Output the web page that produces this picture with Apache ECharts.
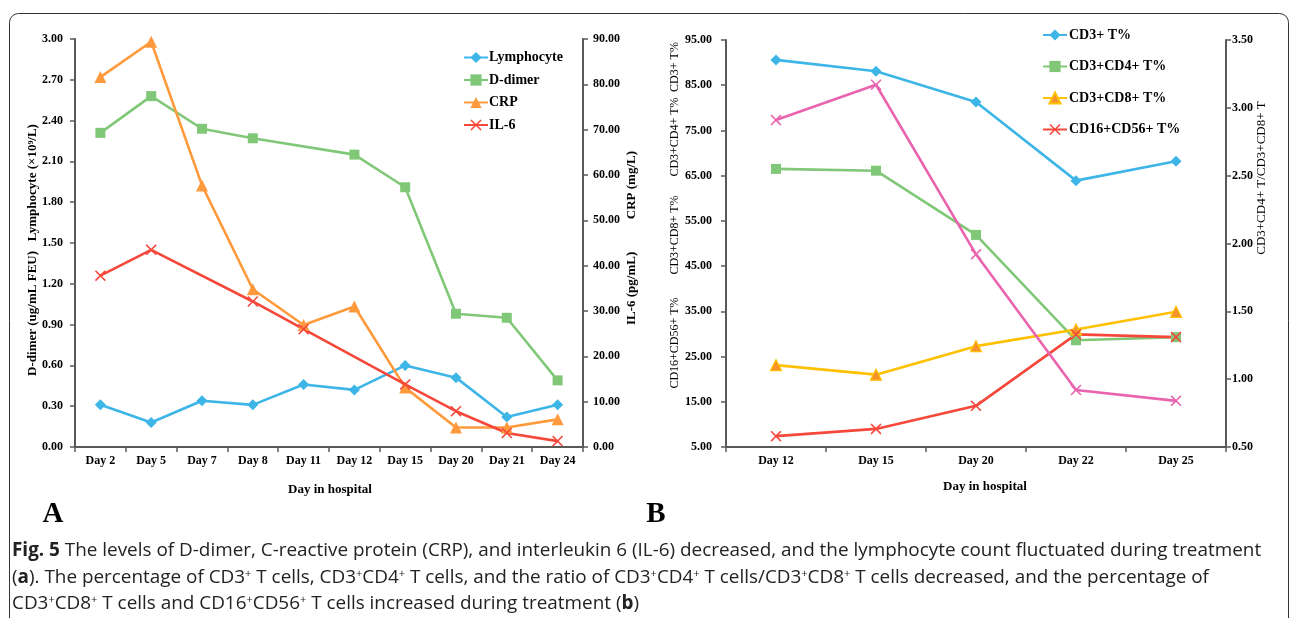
<!DOCTYPE html>
<html>
<head>
<meta charset="utf-8">
<script src="https://cdn.jsdelivr.net/npm/echarts@6/dist/echarts.min.js"></script>
<style>
html,body{margin:0;padding:0;background:#fff;}
#chart{width:1292px;height:618px;}
</style>
</head>
<body>
<div id="chart"></div>
<script>
// ---------- Panel A data ----------
const daysA = ['Day 2','Day 5','Day 7','Day 8','Day 11','Day 12','Day 15','Day 20','Day 21','Day 24'];
const lymphocyte = [0.31, 0.18, 0.34, 0.31, 0.46, 0.42, 0.60, 0.51, 0.22, 0.31];
const dDimer = [2.31, 2.58, 2.34, 2.27, null, 2.15, 1.91, 0.98, 0.95, 0.49];
const crp = [81.6, 89.4, 57.7, 34.8, 26.9, 31.0, 13.1, 4.3, 4.3, 6.1];
const il6 = [37.8, 43.5, null, 32.1, 26.0, null, 13.8, 7.9, 3.1, 1.3];

// ---------- Panel B data ----------
const daysB = ['Day 12','Day 15','Day 20','Day 22','Day 25'];
const cd3 = [90.6, 88.1, 81.3, 63.9, 68.2];
const cd3cd4 = [66.5, 66.1, 51.9, 28.6, 29.3];
const cd3cd8 = [23.1, 21.0, 27.3, 31.0, 34.9];
const cd16cd56 = [7.4, 9.0, 14.1, 29.9, 29.3];
const ratio = [2.91, 3.17, 1.92, 0.92, 0.84];

const SERIF = '"Liberation Serif", "DejaVu Serif", serif';
const SANS = '"Open Sans", sans-serif';
const AX = '#595959';
const C_BLUE = '#3DB5E6', C_GREEN = '#80C878', C_ORANGE = '#FF9A3C', C_RED = '#F5483B', C_YELLOW = '#FFC000', C_PINK = '#E963AE';
const XSYM = 'path://M0,1L1,0L5,4L9,0L10,1L6,5L10,9L9,10L5,6L1,10L0,9L4,5Z';

function yAxisCfg(gridIndex, pos, min, max, interval, margin) {
  return {
    type: 'value', gridIndex: gridIndex, position: pos, min: min, max: max, interval: interval,
    splitLine: {show: false},
    axisLine: {show: true, lineStyle: {color: AX, width: 2}},
    axisTick: {show: true, inside: false, length: 5, lineStyle: {color: AX, width: 1.5}},
    axisLabel: {formatter: v => v.toFixed(2), fontFamily: SERIF, fontWeight: 'bold', fontSize: 12, color: '#000', margin: margin}
  };
}
function xAxisCfg(gridIndex, data) {
  return {
    type: 'category', gridIndex: gridIndex, data: data, boundaryGap: true,
    axisLine: {show: true, lineStyle: {color: AX, width: 2}},
    axisTick: {show: true, inside: false, length: 5, alignWithLabel: false, lineStyle: {color: AX, width: 1.5}},
    axisLabel: {fontFamily: SERIF, fontWeight: 'bold', fontSize: 12, color: '#000', margin: 8, interval: 0},
    splitLine: {show: false}
  };
}
function lineSeries(name, data, xi, yi, color, symbol, size, extra) {
  const s = {
    name: name, type: 'line', data: data, xAxisIndex: xi, yAxisIndex: yi,
    connectNulls: true, symbol: symbol, symbolSize: size, showAllSymbol: true,
    lineStyle: {color: color, width: 2.6},
    itemStyle: {color: color},
    z: 3, animation: false
  };
  return Object.assign(s, extra || {});
}

function vtext(x, y, text, bold, size) {
  return {
    type: 'text', x: x, y: y, rotation: Math.PI / 2,
    style: {text: text, fontFamily: SERIF, fontWeight: bold ? 'bold' : 'normal', fontSize: size || 13,
      fill: '#000', align: 'center', verticalAlign: 'middle'}
  };
}

const CAP = 18.9;
const capRich = {
  b: {fontWeight: 'bold', fontFamily: SANS, fontSize: CAP, fill: '#222'},
  s: {fontFamily: SANS, fontSize: 11, verticalAlign: 'top', fill: '#222'}
};
function capLine(y, text) {
  return {
    type: 'text', x: 12, y: y,
    style: {text: text, rich: capRich, fontFamily: SANS, fontSize: CAP, fill: '#222',
      align: 'left', verticalAlign: 'middle'}
  };
}

const chart = echarts.init(document.getElementById('chart'), null, {renderer: 'canvas'});
chart.setOption({
  animation: false,
  backgroundColor: '#fff',
  grid: [
    {left: 75, top: 39, width: 508, height: 408, containLabel: false},
    {left: 726, top: 40, width: 500, height: 407, containLabel: false}
  ],
  xAxis: [xAxisCfg(0, daysA), xAxisCfg(1, daysB)],
  yAxis: [
    yAxisCfg(0, 'left', 0, 3, 0.3, 12),
    yAxisCfg(0, 'right', 0, 90, 10, 10),
    yAxisCfg(1, 'left', 5, 95, 10, 14),
    yAxisCfg(1, 'right', 0.5, 3.5, 0.5, 6)
  ],
  legend: [
    {
      data: ['Lymphocyte', 'D-dimer', 'CRP', 'IL-6'],
      orient: 'vertical', left: 458, top: 45.5, itemWidth: 24, itemHeight: 14, itemGap: 8.5,
      textStyle: {fontFamily: SERIF, fontWeight: 'bold', fontSize: 14, color: '#000', padding: [0, 0, 0, -4]},
      selectedMode: false
    },
    {
      data: ['CD3+ T%', 'CD3+CD4+ T%', 'CD3+CD8+ T%', 'CD16+CD56+ T%'],
      orient: 'vertical', left: 1037, top: 23, itemWidth: 24, itemHeight: 14, itemGap: 17.5,
      textStyle: {fontFamily: SERIF, fontWeight: 'bold', fontSize: 14, color: '#000', padding: [0, 0, 0, -3]},
      selectedMode: false
    }
  ],
  series: [
    lineSeries('Lymphocyte', lymphocyte, 0, 0, C_BLUE, 'diamond', 11),
    lineSeries('D-dimer', dDimer, 0, 0, C_GREEN, 'rect', 10),
    lineSeries('CRP', crp, 0, 1, C_ORANGE, 'triangle', 12),
    lineSeries('IL-6', il6, 0, 1, C_RED, XSYM, 11),
    lineSeries('CD3+ T%', cd3, 1, 2, C_BLUE, 'diamond', 11),
    lineSeries('CD3+CD4+ T%', cd3cd4, 1, 2, C_GREEN, 'rect', 10),
    lineSeries('CD3+CD8+ T%', cd3cd8, 1, 2, C_YELLOW, 'triangle', 11,
      {itemStyle: {color: '#F5922E', borderColor: C_YELLOW, borderWidth: 1.2}}),
    lineSeries('CD16+CD56+ T%', cd16cd56, 1, 2, C_RED, XSYM, 11),
    lineSeries('CD3+CD4+ T/CD3+CD8+ T', ratio, 1, 3, C_PINK, XSYM, 11)
  ],
  graphic: [
    {type: 'rect', z: -10, shape: {x: 9.5, y: 13.5, width: 1279, height: 640, r: 9},
      style: {fill: 'none', stroke: '#333', lineWidth: 1}},
    // Panel A axis titles
    vtext(33, 250, 'D-dimer (ug/mL FEU)   Lymphocyte (\u00d710\u2079/L)', true, 13),
    vtext(632, 238, 'IL-6 (pg/mL)          CRP (mg/L)', true, 13),
    {type: 'text', x: 330, y: 490, style: {text: 'Day in hospital', fontFamily: SERIF, fontWeight: 'bold', fontSize: 13, fill: '#000', align: 'center', verticalAlign: 'middle'}},
    // Panel B axis titles
    vtext(675, 67, 'CD3+ T%', false, 12),
    vtext(675, 137, 'CD3+CD4+ T%', false, 12),
    vtext(675, 235, 'CD3+CD8+ T%', false, 12),
    vtext(675, 343, 'CD16+CD56+ T%', false, 12),
    vtext(1262, 178, 'CD3+CD4+ T/CD3+CD8+ T', false, 13),
    {type: 'text', x: 985, y: 487, style: {text: 'Day in hospital', fontFamily: SERIF, fontWeight: 'bold', fontSize: 13, fill: '#000', align: 'center', verticalAlign: 'middle'}},
    // Panel letters
    {type: 'text', x: 53, y: 515, style: {text: 'A', fontFamily: SERIF, fontWeight: 'bold', fontSize: 29, fill: '#000', align: 'center', verticalAlign: 'middle'}},
    {type: 'text', x: 656, y: 515, style: {text: 'B', fontFamily: SERIF, fontWeight: 'bold', fontSize: 29, fill: '#000', align: 'center', verticalAlign: 'middle'}},
    // Caption
    capLine(551, '{b|Fig. 5} The levels of D-dimer, C-reactive protein (CRP), and interleukin 6 (IL-6) decreased, and the lymphocyte count fluctuated during treatment'),
    capLine(578, '({b|a}). The percentage of CD3{s|+} T cells, CD3{s|+}CD4{s|+} T cells, and the ratio of CD3{s|+}CD4{s|+} T cells/CD3{s|+}CD8{s|+} T cells decreased, and the percentage of'),
    capLine(604, 'CD3{s|+}CD8{s|+} T cells and CD16{s|+}CD56{s|+} T cells increased during treatment ({b|b})')
  ]
});
</script>
</body>
</html>
